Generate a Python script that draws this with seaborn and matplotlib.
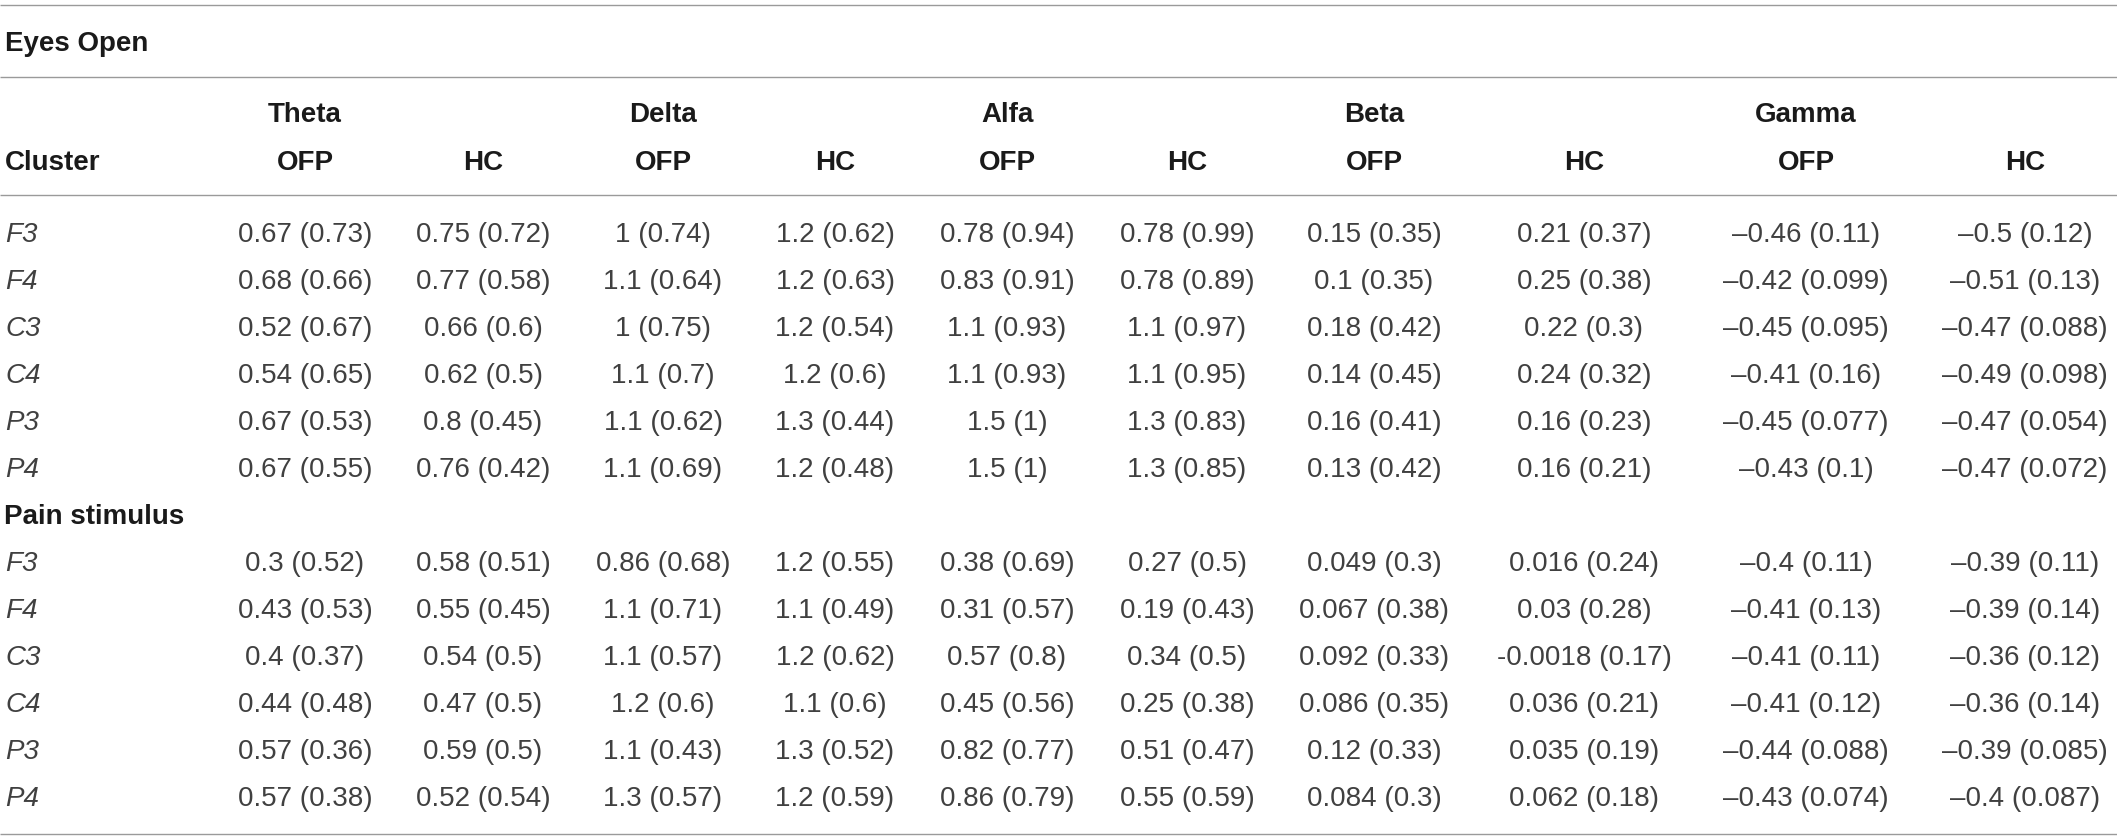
import matplotlib
matplotlib.use("Agg")
import matplotlib.pyplot as plt
import seaborn as sns

# ---------------- data ----------------
clusters = ["F3", "F4", "C3", "C4", "P3", "P4"]
bands = ["Theta", "Delta", "Alfa", "Beta", "Gamma"]
groups = ["OFP", "HC"]
conditions = ["Eyes Open", "Pain stimulus"]

# Eyes Open: mean (sd)
eo_theta_ofp = ["0.67 (0.73)", "0.68 (0.66)", "0.52 (0.67)", "0.54 (0.65)", "0.67 (0.53)", "0.67 (0.55)"]
eo_theta_hc = ["0.75 (0.72)", "0.77 (0.58)", "0.66 (0.6)", "0.62 (0.5)", "0.8 (0.45)", "0.76 (0.42)"]
eo_delta_ofp = ["1 (0.74)", "1.1 (0.64)", "1 (0.75)", "1.1 (0.7)", "1.1 (0.62)", "1.1 (0.69)"]
eo_delta_hc = ["1.2 (0.62)", "1.2 (0.63)", "1.2 (0.54)", "1.2 (0.6)", "1.3 (0.44)", "1.2 (0.48)"]
eo_alfa_ofp = ["0.78 (0.94)", "0.83 (0.91)", "1.1 (0.93)", "1.1 (0.93)", "1.5 (1)", "1.5 (1)"]
eo_alfa_hc = ["0.78 (0.99)", "0.78 (0.89)", "1.1 (0.97)", "1.1 (0.95)", "1.3 (0.83)", "1.3 (0.85)"]
eo_beta_ofp = ["0.15 (0.35)", "0.1 (0.35)", "0.18 (0.42)", "0.14 (0.45)", "0.16 (0.41)", "0.13 (0.42)"]
eo_beta_hc = ["0.21 (0.37)", "0.25 (0.38)", "0.22 (0.3)", "0.24 (0.32)", "0.16 (0.23)", "0.16 (0.21)"]
eo_gamma_ofp = ["\u20130.46 (0.11)", "\u20130.42 (0.099)", "\u20130.45 (0.095)", "\u20130.41 (0.16)", "\u20130.45 (0.077)", "\u20130.43 (0.1)"]
eo_gamma_hc = ["\u20130.5 (0.12)", "\u20130.51 (0.13)", "\u20130.47 (0.088)", "\u20130.49 (0.098)", "\u20130.47 (0.054)", "\u20130.47 (0.072)"]

# Pain stimulus: mean (sd)
ps_theta_ofp = ["0.3 (0.52)", "0.43 (0.53)", "0.4 (0.37)", "0.44 (0.48)", "0.57 (0.36)", "0.57 (0.38)"]
ps_theta_hc = ["0.58 (0.51)", "0.55 (0.45)", "0.54 (0.5)", "0.47 (0.5)", "0.59 (0.5)", "0.52 (0.54)"]
ps_delta_ofp = ["0.86 (0.68)", "1.1 (0.71)", "1.1 (0.57)", "1.2 (0.6)", "1.1 (0.43)", "1.3 (0.57)"]
ps_delta_hc = ["1.2 (0.55)", "1.1 (0.49)", "1.2 (0.62)", "1.1 (0.6)", "1.3 (0.52)", "1.2 (0.59)"]
ps_alfa_ofp = ["0.38 (0.69)", "0.31 (0.57)", "0.57 (0.8)", "0.45 (0.56)", "0.82 (0.77)", "0.86 (0.79)"]
ps_alfa_hc = ["0.27 (0.5)", "0.19 (0.43)", "0.34 (0.5)", "0.25 (0.38)", "0.51 (0.47)", "0.55 (0.59)"]
ps_beta_ofp = ["0.049 (0.3)", "0.067 (0.38)", "0.092 (0.33)", "0.086 (0.35)", "0.12 (0.33)", "0.084 (0.3)"]
ps_beta_hc = ["0.016 (0.24)", "0.03 (0.28)", "-0.0018 (0.17)", "0.036 (0.21)", "0.035 (0.19)", "0.062 (0.18)"]
ps_gamma_ofp = ["\u20130.4 (0.11)", "\u20130.41 (0.13)", "\u20130.41 (0.11)", "\u20130.41 (0.12)", "\u20130.44 (0.088)", "\u20130.43 (0.074)"]
ps_gamma_hc = ["\u20130.39 (0.11)", "\u20130.39 (0.14)", "\u20130.36 (0.12)", "\u20130.36 (0.14)", "\u20130.39 (0.085)", "\u20130.4 (0.087)"]

eo_columns = [eo_theta_ofp, eo_theta_hc, eo_delta_ofp, eo_delta_hc, eo_alfa_ofp,
              eo_alfa_hc, eo_beta_ofp, eo_beta_hc, eo_gamma_ofp, eo_gamma_hc]
ps_columns = [ps_theta_ofp, ps_theta_hc, ps_delta_ofp, ps_delta_hc, ps_alfa_ofp,
              ps_alfa_hc, ps_beta_ofp, ps_beta_hc, ps_gamma_ofp, ps_gamma_hc]

# ---------------- layout / style ----------------
sns.set_theme(style="white")
plt.rcParams["font.family"] = ["Liberation Sans", "DejaVu Sans"]

W, H = 2117, 840
fig = plt.figure(figsize=(W / 100, H / 100), dpi=100)
ax = fig.add_axes([0, 0, 1, 1])
ax.set_xlim(0, W)
ax.set_ylim(H, 0)
ax.axis("off")

col_x = [305, 483, 663, 835, 1007, 1187, 1374, 1584, 1806, 2025]
label_x = 5
line_color = "#9a9a9a"
head_color = "#1a1a1a"
cell_color = "#404040"
fs = 20

# rules
for y in [5, 77, 195, 834]:
    ax.plot([0, W], [y, y], color=line_color, lw=1.0, solid_capstyle="butt")

# header
ax.text(label_x, 51, conditions[0], fontsize=fs, fontweight="bold", color=head_color,
        ha="left", va="baseline")
for i, b in enumerate(bands):
    ax.text(col_x[2 * i], 122, b, fontsize=fs, fontweight="bold", color=head_color,
            ha="center", va="baseline")
ax.text(label_x, 170, "Cluster", fontsize=fs, fontweight="bold", color=head_color,
        ha="left", va="baseline")
for j, x in enumerate(col_x):
    ax.text(x, 170, groups[j % 2], fontsize=fs, fontweight="bold", color=head_color,
            ha="center", va="baseline")

# body
step = 47
eo_y0 = 242
for r, c in enumerate(clusters):
    y = eo_y0 + r * step
    ax.text(label_x, y, c, fontsize=fs, style="italic", color=cell_color, ha="left", va="baseline")
    for j, col in enumerate(eo_columns):
        ax.text(col_x[j], y, col[r], fontsize=fs, color=cell_color, ha="center", va="baseline")

ax.text(label_x - 1, eo_y0 + 6 * step, conditions[1], fontsize=fs, fontweight="bold",
        color=head_color, ha="left", va="baseline")

ps_y0 = eo_y0 + 7 * step
for r, c in enumerate(clusters):
    y = ps_y0 + r * step
    ax.text(label_x, y, c, fontsize=fs, style="italic", color=cell_color, ha="left", va="baseline")
    for j, col in enumerate(ps_columns):
        ax.text(col_x[j], y, col[r], fontsize=fs, color=cell_color, ha="center", va="baseline")

fig.savefig("out.png", dpi=100, facecolor="white")
